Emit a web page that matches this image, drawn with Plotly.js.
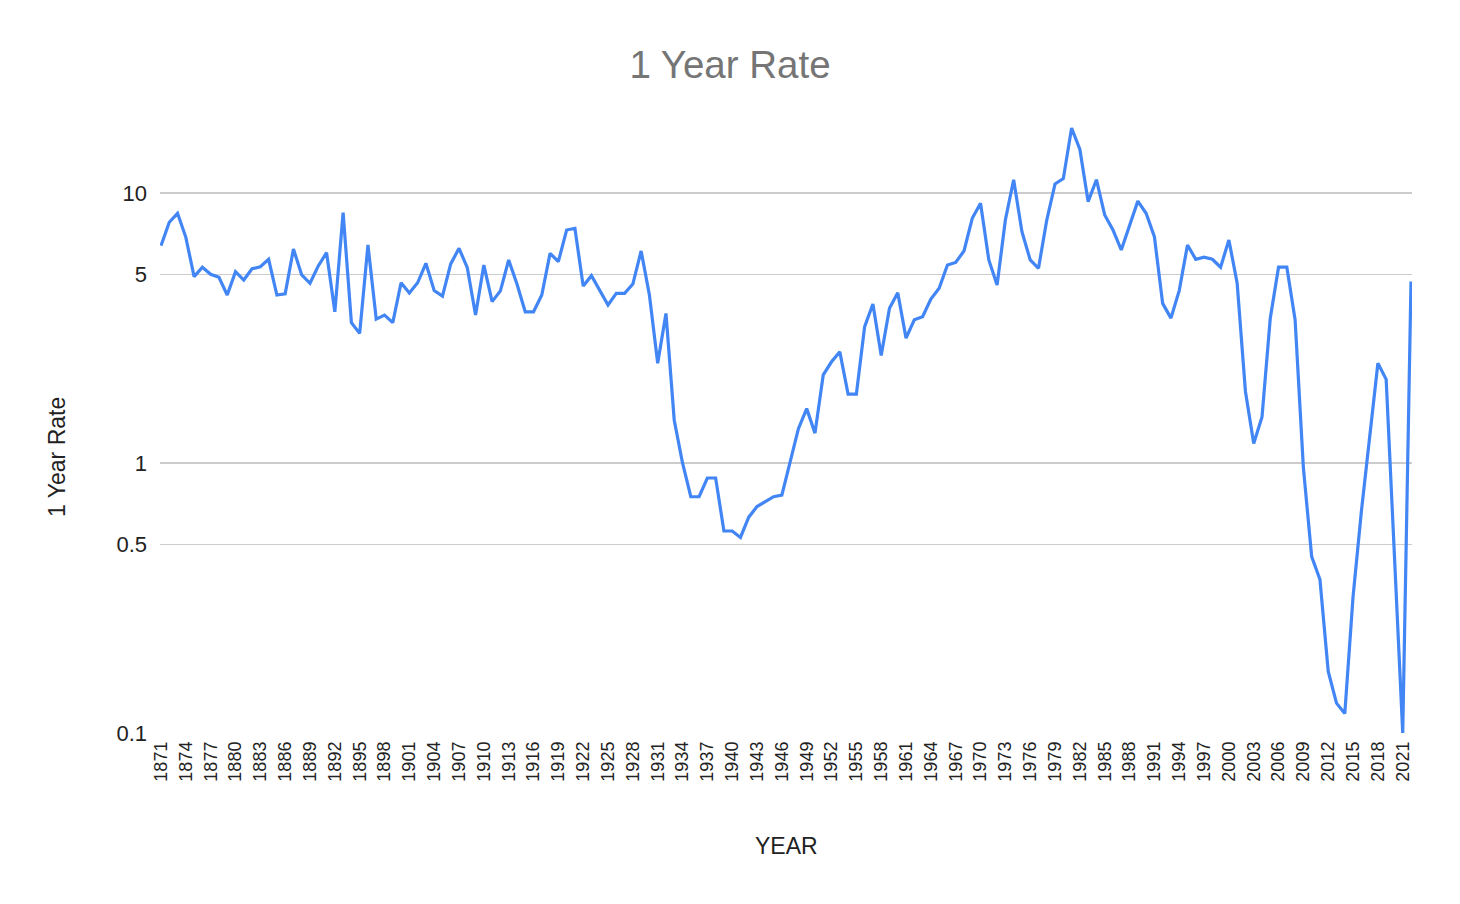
<!DOCTYPE html>
<html>
<head>
<meta charset="utf-8">
<script src="https://cdn.plot.ly/plotly-3.0.1.min.js"></script>
<style>
html, body { margin: 0; padding: 0; background: #fff; }
#chart { width: 1460px; height: 904px; }
</style>
</head>
<body>
<div id="chart"></div>
<script>
const firstYear = 1871;
const rates = [
  6.38, 7.79, 8.41, 6.85, 4.90, 5.31, 5.00, 4.87, 4.19, 5.11,
  4.76, 5.24, 5.33, 5.68, 4.19, 4.23, 6.20, 4.97, 4.63, 5.37,
  6.01, 3.63, 8.45, 3.31, 3.02, 6.42, 3.41, 3.53, 3.31, 4.65,
  4.26, 4.65, 5.49, 4.35, 4.15, 5.46, 6.24, 5.29, 3.53, 5.41,
  3.96, 4.34, 5.65, 4.60, 3.63, 3.63, 4.19, 5.98, 5.57, 7.29,
  7.40, 4.52, 4.94, 4.35, 3.85, 4.25, 4.25, 4.60, 6.10, 4.19,
  2.34, 3.58, 1.44, 1.00, 0.75, 0.75, 0.88, 0.88, 0.56, 0.56,
  0.53, 0.63, 0.69, 0.72, 0.75, 0.76, 1.01, 1.34, 1.59, 1.29,
  2.12, 2.37, 2.58, 1.80, 1.80, 3.20, 3.88, 2.50, 3.74, 4.27,
  2.90, 3.39, 3.48, 4.05, 4.44, 5.41, 5.53, 6.10, 8.06, 9.16,
  5.65, 4.56, 7.94, 11.2, 7.19, 5.65, 5.26, 7.94, 10.8, 11.3,
  17.4, 14.5, 9.29, 11.2, 8.29, 7.29, 6.15, 7.61, 9.33, 8.41,
  6.89, 3.90, 3.44, 4.35, 6.42, 5.68, 5.78, 5.68, 5.31, 6.70,
  4.63, 1.84, 1.18, 1.48, 3.44, 5.31, 5.31, 3.39, 0.96, 0.45,
  0.37, 0.169, 0.129, 0.118, 0.32, 0.66, 1.27, 2.34, 2.04, 0.43,
  0.10, 4.70
];
const years = rates.map((_, i) => firstYear + i);
const xTickYears = years.filter(y => (y - firstYear) % 3 === 0);
const yTickVals = [0.1, 0.5, 1, 5, 10];
const yTickText = ['0.1', '0.5', '1', '5', '10'];

const FONT = '"Liberation Sans", Arial, sans-serif';

const trace = {
  x: years,
  y: rates,
  type: 'scatter',
  mode: 'lines',
  line: { color: '#4285F4', width: 3.2 },
  hoverinfo: 'x+y'
};

const layout = {
  width: 1460,
  height: 904,
  margin: { l: 160, r: 48, t: 100, b: 171 },
  paper_bgcolor: '#ffffff',
  plot_bgcolor: '#ffffff',
  showlegend: false,
  font: { family: FONT, color: '#222222' },
  title: {
    text: '1 Year Rate',
    font: { family: FONT, size: 38.5, color: '#757575' },
    x: 0.5, xanchor: 'center',
    y: 0.929, yanchor: 'middle'
  },
  xaxis: {
    range: [1870.88, 2022.12],
    tickmode: 'array',
    tickvals: xTickYears,
    ticktext: xTickYears.map(String),
    tickangle: -90,
    tickfont: { family: FONT, size: 18, color: '#222222' },
    showgrid: false,
    zeroline: false,
    showline: false,
    ticks: '',
    ticklabelstandoff: 4,
    title: { text: '' }
  },
  yaxis: {
    type: 'log',
    range: [-1, 1.3444],
    tickmode: 'array',
    tickvals: yTickVals,
    ticktext: yTickText,
    tickfont: { family: FONT, size: 22, color: '#222222' },
    showgrid: true,
    gridcolor: '#cccccc',
    gridwidth: 1.3,
    zeroline: false,
    showline: false,
    ticks: '',
    ticklabelstandoff: 12,
    title: { text: '' }
  },
  annotations: [
    {
      text: 'YEAR', xref: 'paper', yref: 'paper',
      x: (786 - 160) / 1252, y: -(846 - 733) / 633,
      xanchor: 'center', yanchor: 'middle', showarrow: false,
      font: { family: FONT, size: 23, color: '#222222' }
    },
    {
      text: '1 Year Rate', xref: 'paper', yref: 'paper',
      x: -(160 - 57) / 1252, y: (733 - 457) / 633,
      xanchor: 'center', yanchor: 'middle', showarrow: false, textangle: -90,
      font: { family: FONT, size: 23, color: '#222222' }
    }
  ]
};

Plotly.newPlot('chart', [trace], layout, { displayModeBar: false, staticPlot: true });
</script>
</body>
</html>
